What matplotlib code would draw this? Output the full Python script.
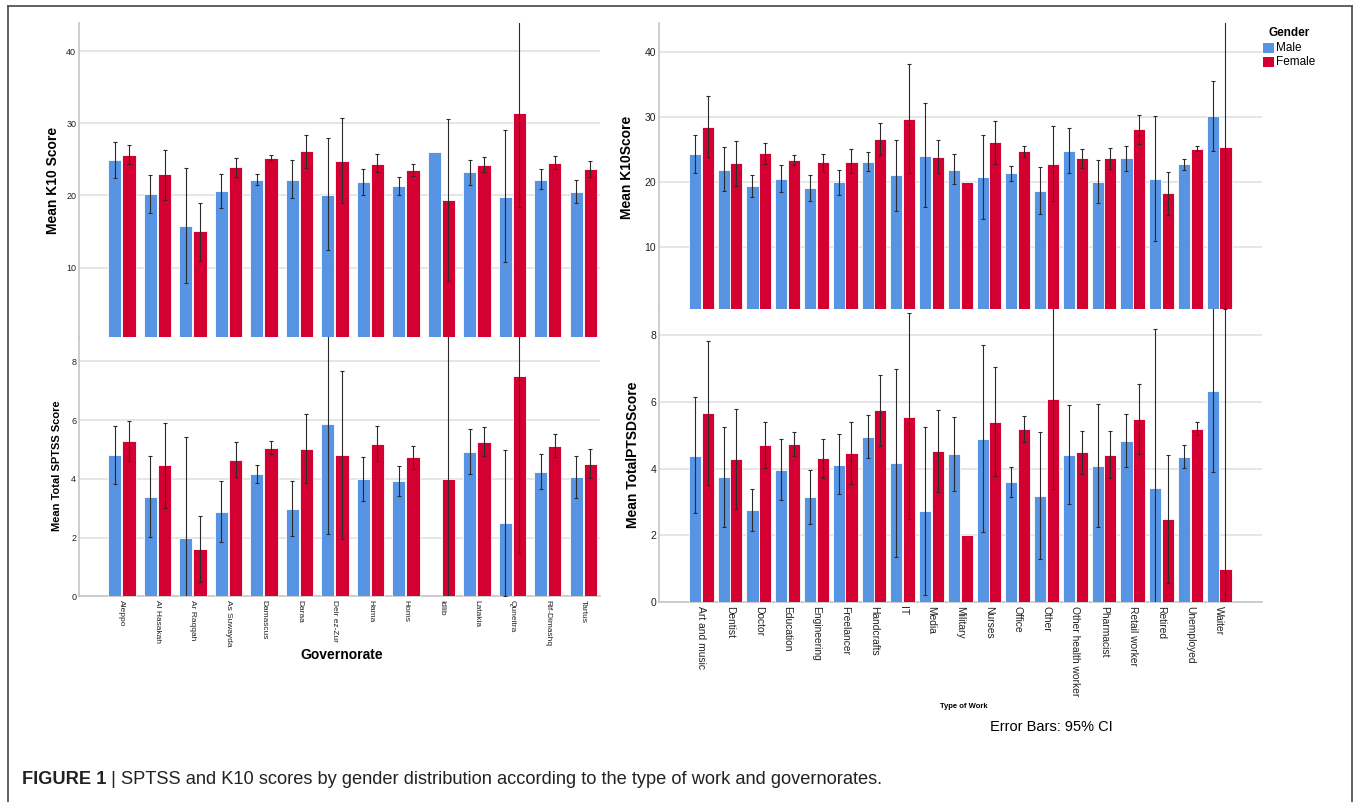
import numpy as np
import matplotlib
matplotlib.use("Agg")
import matplotlib.pyplot as plt
from matplotlib.lines import Line2D
from matplotlib.patches import Rectangle

plt.rcParams['font.family'] = ['Liberation Sans', 'DejaVu Sans']

nan = np.nan

# ---------------- data: governorates ----------------
governorates = ["Aleppo", "Al Hasakah", "Ar Raqqah", "As Suwayda", "Damascus", "Daraa",
                "Deir ez-Zur", "Hama", "Homs", "Idlib", "Latakia", "Quneitra",
                "Rif-Dimashq", "Tartus"]

k10_gov_male = [24.9, 20.2, 15.75, 20.6, 22.1, 22.2, 20.1, 21.8, 21.25, 26.0, 23.2, 19.8, 22.2, 20.5]
k10_gov_male_lo = [22.4, 17.6, 7.8, 18.3, 21.4, 19.6, 12.4, 20.0, 20.1, nan, 21.5, 10.8, 20.9, 19.0]
k10_gov_male_hi = [27.4, 22.8, 23.8, 23.0, 22.9, 24.9, 27.9, 23.6, 22.5, nan, 24.9, 29.0, 23.7, 22.1]
k10_gov_female = [25.6, 22.9, 15.0, 23.9, 25.2, 26.1, 24.8, 24.4, 23.5, 19.3, 24.2, 31.4, 24.5, 23.6]
k10_gov_female_lo = [24.3, 19.4, 10.95, 22.6, 24.7, 23.8, 19.0, 23.2, 22.7, 8.1, 23.2, 18.4, 23.7, 22.6]
k10_gov_female_hi = [27.0, 26.3, 19.0, 25.2, 25.6, 28.4, 30.7, 25.8, 24.3, 30.6, 25.3, 44.4, 25.4, 24.7]

sptss_gov_male = [4.8, 3.39, 2.0, 2.88, 4.17, 2.96, 5.86, 4.0, 3.92, nan, 4.93, 2.5, 4.22, 4.05]
sptss_gov_male_lo = [3.81, 2.02, -1.41, 1.86, 3.87, 2.04, 2.11, 3.26, 3.42, nan, 4.18, 0.02, 3.64, 3.35]
sptss_gov_male_hi = [5.8, 4.78, 5.41, 3.94, 4.48, 3.92, 9.61, 4.74, 4.45, nan, 5.69, 4.98, 4.84, 4.78]
sptss_gov_female = [5.28, 4.46, 1.6, 4.65, 5.06, 5.02, 4.8, 5.19, 4.74, 4.0, 5.27, 7.51, 5.13, 4.51]
sptss_gov_female_lo = [4.62, 3.02, 0.48, 4.07, 4.85, 3.85, 1.96, 4.6, 4.35, -1.0, 4.79, 1.46, 4.74, 4.03]
sptss_gov_female_hi = [5.96, 5.91, 2.72, 5.24, 5.28, 6.2, 7.66, 5.79, 5.13, 9.0, 5.75, 13.56, 5.53, 5.0]

# ---------------- data: type of work ----------------
work_types = ["Art and music", "Dentist", "Doctor", "Education", "Engineering", "Freelancer",
              "Handcrafts", "IT", "Media", "Military", "Nurses", "Office", "Other",
              "Other health worker", "Pharmacist", "Retail worker", "Retired",
              "Unemployed", "Waiter"]

k10_work_male = [24.25, 21.9, 19.3, 20.5, 19.0, 19.9, 23.1, 21.0, 24.0, 21.9, 20.75, 21.3, 18.6,
                 24.8, 20.0, 23.6, 20.4, 22.7, 30.1]
k10_work_male_lo = [21.3, 18.6, 17.6, 18.5, 17.0, 17.9, 21.7, 15.55, 16.1, 19.7, 14.2, 20.2, 15.1,
                    21.4, 16.7, 21.7, 10.8, 21.9, 24.7]
k10_work_male_hi = [27.3, 25.3, 21.0, 22.65, 21.06, 21.9, 24.6, 26.5, 32.1, 24.25, 27.3, 22.5, 22.3,
                    28.3, 23.3, 25.5, 30.1, 23.5, 35.5]
k10_work_female = [28.5, 22.9, 24.4, 23.3, 23.0, 23.1, 26.6, 29.75, 23.8, 20.0, 26.1, 24.7, 22.8,
                   23.6, 23.6, 28.1, 18.2, 25.1, 25.4]
k10_work_female_lo = [23.9, 19.4, 22.8, 22.55, 21.6, 21.3, 24.2, 21.4, 21.3, nan, 22.8, 23.8, 17.0,
                      22.1, 22.0, 25.9, 14.9, 24.7, 0.4]
k10_work_female_hi = [33.3, 26.3, 25.95, 24.1, 24.35, 25.0, 29.0, 38.1, 26.5, nan, 29.4, 25.6, 28.6,
                      25.0, 25.2, 30.3, 21.5, 25.6, 50.4]

sptss_work_male = [4.39, 3.74, 2.75, 3.96, 3.14, 4.12, 4.96, 4.16, 2.72, 4.44, 4.89, 3.6, 3.19,
                   4.42, 4.09, 4.84, 3.42, 4.36, 6.34]
sptss_work_male_lo = [2.66, 2.24, 2.13, 3.06, 2.33, 3.23, 4.31, 1.37, 0.23, 3.34, 2.09, 3.15, 1.30,
                      2.95, 2.26, 4.04, -1.33, 4.02, 3.9]
sptss_work_male_hi = [6.14, 5.26, 3.39, 4.88, 3.97, 5.03, 5.62, 6.98, 5.24, 5.56, 7.71, 4.05, 5.11,
                      5.9, 5.93, 5.64, 8.17, 4.72, 9.0]
sptss_work_female = [5.66, 4.29, 4.71, 4.74, 4.31, 4.47, 5.75, 5.56, 4.52, 2.0, 5.41, 5.19, 6.1,
                     4.49, 4.42, 5.49, 2.5, 5.19, 1.0]
sptss_work_female_lo = [3.52, 2.80, 4.03, 4.38, 3.73, 3.55, 4.69, 2.49, 3.31, nan, 3.79, 4.79, 3.38,
                        3.85, 3.73, 4.43, 0.59, 5.0, -8.0]
sptss_work_female_hi = [7.83, 5.78, 5.4, 5.11, 4.9, 5.41, 6.82, 8.65, 5.75, nan, 7.05, 5.59, 9.0,
                        5.13, 5.13, 6.54, 4.41, 5.39, 10.0]

BLUE = "#5794E3"
RED = "#D50032"
GRID = "#e2e2e2"
AXC = "#c6c6c6"
ERR = "#2b2b2b"

W, H = 1357, 802
fig = plt.figure(figsize=(W / 100, H / 100), dpi=100)


def px_axes(x0, y0, x1, y1):
    return fig.add_axes([x0 / W, 1 - y1 / H, (x1 - x0) / W, (y1 - y0) / H])


def draw_errors(ax, xs, vals, lo, hi):
    vals = np.asarray(vals, float)
    lo = np.asarray(lo, float)
    hi = np.asarray(hi, float)
    ok = np.isfinite(vals) & np.isfinite(lo) & np.isfinite(hi)
    if ok.any():
        ax.errorbar(np.asarray(xs)[ok], vals[ok],
                    yerr=[vals[ok] - lo[ok], hi[ok] - vals[ok]],
                    fmt='none', ecolor=ERR, elinewidth=0.8, capsize=1.6,
                    capthick=0.8, zorder=4)


def panel(ax, n, m, mlo, mhi, f, flo, fhi, width, off, ylim, yticks, ticksize, xlim):
    x = np.arange(n)
    mv = np.asarray(m, float)
    fv = np.asarray(f, float)
    okm = np.isfinite(mv)
    okf = np.isfinite(fv)
    ax.bar(x[okm] - off, mv[okm], width, color=BLUE, edgecolor="white", linewidth=0.6, zorder=3)
    ax.bar(x[okf] + off, fv[okf], width, color=RED, edgecolor="white", linewidth=0.6, zorder=3)
    draw_errors(ax, x - off, m, mlo, mhi)
    draw_errors(ax, x + off, f, flo, fhi)
    ax.set_xlim(*xlim)
    ax.set_ylim(*ylim)
    ax.set_yticks(yticks)
    ax.set_yticklabels([str(t) for t in yticks], fontsize=ticksize)
    ax.yaxis.grid(True, color=GRID, linewidth=1.2, zorder=0)
    ax.set_axisbelow(True)
    for s in ["top", "right"]:
        ax.spines[s].set_visible(False)
    ax.spines["left"].set_color(AXC)
    ax.spines["left"].set_linewidth(1.2)
    ax.spines["bottom"].set_color(AXC)
    ax.spines["bottom"].set_linewidth(1.2)
    ax.tick_params(axis="both", length=0, pad=2, colors="#222222")
    ax.set_facecolor("none")
    return x


# ---------------- left panels (governorate) ----------------
ng = len(governorates)
xl = (-1.21, ng - 1 + 0.47)
ax_lt = px_axes(79, 23, 600, 337)
panel(ax_lt, ng, k10_gov_male, k10_gov_male_lo, k10_gov_male_hi,
      k10_gov_female, k10_gov_female_lo, k10_gov_female_hi,
      0.37, 0.2, (0.37, 43.9), [10, 20, 30, 40], 6.5, xl)
ax_lt.spines["bottom"].set_visible(False)
ax_lt.set_xticks([])

ax_lb = px_axes(79, 337, 600, 596.3)
xg = panel(ax_lb, ng, sptss_gov_male, sptss_gov_male_lo, sptss_gov_male_hi,
           sptss_gov_female, sptss_gov_female_lo, sptss_gov_female_hi,
           0.37, 0.2, (0, 8.83), [0, 2, 4, 6, 8], 6.5, xl)
ax_lb.set_xticks(xg)
ax_lb.set_xticklabels(governorates, rotation=-90, ha="center", va="top", fontsize=6)
ax_lb.tick_params(axis="x", pad=3)

# ---------------- right panels (type of work) ----------------
nw = len(work_types)
xr = (-1.47, nw - 1 + 1.49)
ax_rt = px_axes(659, 23, 1262, 308.7)
panel(ax_rt, nw, k10_work_male, k10_work_male_lo, k10_work_male_hi,
      k10_work_female, k10_work_female_lo, k10_work_female_hi,
      0.42, 0.22, (0.43, 44.5), [10, 20, 30, 40], 7.5, xr)
ax_rt.spines["bottom"].set_visible(False)
ax_rt.set_xticks([])

ax_rb = px_axes(659, 308.7, 1262, 602.3)
xw = panel(ax_rb, nw, sptss_work_male, sptss_work_male_lo, sptss_work_male_hi,
           sptss_work_female, sptss_work_female_lo, sptss_work_female_hi,
           0.42, 0.22, (0, 8.79), [0, 2, 4, 6, 8], 7.5, xr)
ax_rb.set_xticks(xw)
ax_rb.set_xticklabels(work_types, rotation=-90, ha="center", va="top", fontsize=7.4)
ax_rb.tick_params(axis="x", pad=3)

# ---------------- axis titles ----------------
def ftext(x, y, s, **kw):
    return fig.text(x / W, 1 - y / H, s, **kw)


ftext(53, 180, "Mean K10 Score", rotation=90, ha="center", va="center",
      fontsize=10, fontweight="bold")
ftext(57, 466, "Mean Total SPTSS Score", rotation=90, ha="center", va="center",
      fontsize=8, fontweight="bold")
ftext(627, 167, "Mean K10Score", rotation=90, ha="center", va="center",
      fontsize=10, fontweight="bold")
ftext(633, 455, "Mean TotalPTSDScore", rotation=90, ha="center", va="center",
      fontsize=10, fontweight="bold")
ftext(342, 655, "Governorate", ha="center", va="center", fontsize=10, fontweight="bold")
ftext(964, 707, "Type of Work", ha="center", va="center", fontsize=5.5, fontweight="bold")
ftext(1051, 727, "Error Bars: 95% CI", ha="center", va="center", fontsize=10.5)

# ---------------- legend ----------------
ftext(1289, 33, "Gender", ha="center", va="center", fontsize=8.5, fontweight="bold")
fig.add_artist(Rectangle((1263 / W, 1 - 53 / H), 11 / W, 10 / H, transform=fig.transFigure,
                         facecolor=BLUE, edgecolor="none"))
fig.add_artist(Rectangle((1263 / W, 1 - 67 / H), 11 / W, 10 / H, transform=fig.transFigure,
                         facecolor=RED, edgecolor="none"))
ftext(1276, 48, "Male", ha="left", va="center", fontsize=8.5)
ftext(1276, 62, "Female", ha="left", va="center", fontsize=8.5)

# ---------------- frame ----------------
fl, ft, fr = 8 / W, 1 - 6 / H, 1352 / W
for xs, ys in [([fl, fl], [0, ft]), ([fl, fr], [ft, ft]), ([fr, fr], [ft, 0])]:
    fig.add_artist(Line2D(xs, ys, transform=fig.transFigure, color="#555555", linewidth=1.3))

# ---------------- caption ----------------
caption = " | SPTSS and K10 scores by gender distribution according to the type of work and governorates."
t1 = ftext(22, 780, "FIGURE 1", ha="left", va="center", fontsize=12.3, fontweight="bold",
           color="#222222")
t2 = fig.text(0.1, 1 - 780 / H, caption, ha="left", va="center", fontsize=12.3,
              color="#222222")
rend = fig.canvas.get_renderer()
for _ in range(3):
    fig.canvas.draw()
    bb = t1.get_window_extent(renderer=rend)
    t2.set_x(bb.x1 / W)
    bb2 = t2.get_window_extent(renderer=rend)
    s = t2.get_fontsize() * (882 - bb.x1) / bb2.width
    t2.set_fontsize(s)
    t1.set_fontsize(s)

fig.savefig("out.png", dpi=100)
